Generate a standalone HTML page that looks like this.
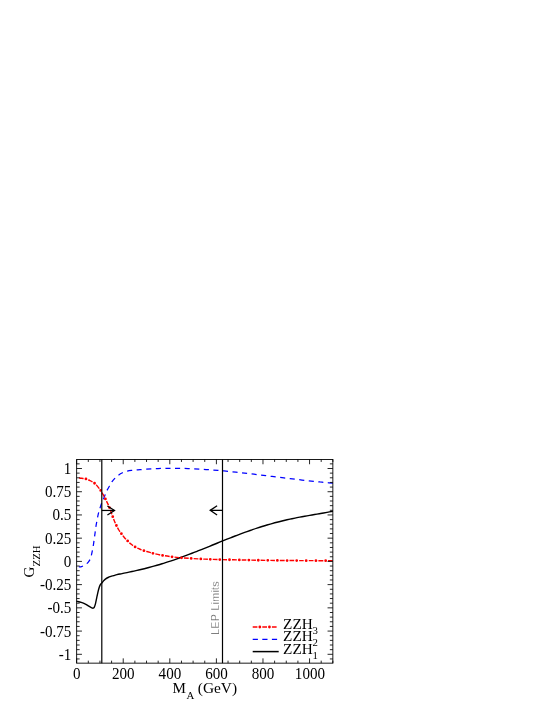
<!DOCTYPE html>
<html><head><meta charset="utf-8"><title>G_ZZH vs M_A</title>
<style>
html,body{margin:0;padding:0;background:#fff;}
body{width:553px;height:715px;overflow:hidden;position:relative;font-family:"Liberation Serif",serif;}
svg{position:absolute;left:0;top:0;display:block;will-change:transform;}
svg text{font-family:"Liberation Serif",serif;font-size:15.1px;fill:#000;}
svg text.sub{font-size:10.8px;}
svg text.lg{font-size:15.25px;}
svg text.lep{font-family:"Liberation Sans",sans-serif;font-size:10.8px;fill:#444;stroke:#fff;stroke-width:0.3px;}
</style></head><body>
<svg width="553" height="715" viewBox="0 0 553 715">
<!-- curves -->
<g fill="none" stroke-linejoin="round">
<path d="M76.50 601.30C76.62 601.32 76.42 601.22 77.20 601.40C77.98 601.58 79.83 601.95 81.20 602.40C82.57 602.85 84.13 603.47 85.40 604.10C86.67 604.73 87.75 605.58 88.80 606.20C89.85 606.82 91.00 607.47 91.70 607.80C92.40 608.13 92.58 608.27 93.00 608.20C93.42 608.13 93.78 608.17 94.20 607.40C94.62 606.63 95.08 605.20 95.50 603.60C95.92 602.00 96.28 599.75 96.70 597.80C97.12 595.85 97.58 593.65 98.00 591.90C98.42 590.15 98.83 588.55 99.25 587.30C99.67 586.05 100.03 585.17 100.50 584.40C100.97 583.63 101.60 583.28 102.10 582.70C102.60 582.12 102.95 581.50 103.50 580.90C104.05 580.30 104.63 579.67 105.40 579.10C106.17 578.53 107.18 577.95 108.10 577.50C109.02 577.05 110.00 576.71 110.90 576.40C111.80 576.09 112.48 575.95 113.50 575.65C114.52 575.35 115.58 574.93 117.00 574.59C118.42 574.25 120.33 573.94 122.00 573.60C123.67 573.27 125.33 572.94 127.00 572.59C128.67 572.25 130.33 571.90 132.00 571.54C133.67 571.18 135.33 570.81 137.00 570.43C138.67 570.05 140.33 569.66 142.00 569.25C143.67 568.85 145.33 568.43 147.00 568.00C148.67 567.57 150.33 567.13 152.00 566.68C153.67 566.22 155.33 565.75 157.00 565.27C158.67 564.78 160.33 564.29 162.00 563.77C163.67 563.26 165.33 562.74 167.00 562.20C168.67 561.66 170.33 561.11 172.00 560.55C173.67 559.99 175.33 559.41 177.00 558.82C178.67 558.24 180.33 557.64 182.00 557.03C183.67 556.42 185.33 555.80 187.00 555.17C188.67 554.54 190.33 553.90 192.00 553.26C193.67 552.61 195.33 551.96 197.00 551.30C198.67 550.65 200.33 549.98 202.00 549.31C203.67 548.65 205.33 547.97 207.00 547.30C208.67 546.62 210.33 545.95 212.00 545.27C213.67 544.59 215.33 543.91 217.00 543.24C218.67 542.56 220.33 541.88 222.00 541.21C223.67 540.54 225.33 539.87 227.00 539.21C228.67 538.54 230.33 537.88 232.00 537.23C233.67 536.58 235.33 535.93 237.00 535.29C238.67 534.66 240.33 534.03 242.00 533.41C243.67 532.79 245.33 532.18 247.00 531.58C248.67 530.98 250.33 530.40 252.00 529.82C253.67 529.25 255.33 528.68 257.00 528.14C258.67 527.59 260.33 527.05 262.00 526.53C263.67 526.01 265.33 525.50 267.00 525.01C268.67 524.52 270.33 524.04 272.00 523.57C273.67 523.11 275.33 522.66 277.00 522.23C278.67 521.79 280.33 521.38 282.00 520.97C283.67 520.57 285.33 520.18 287.00 519.80C288.67 519.42 290.33 519.06 292.00 518.70C293.67 518.35 295.33 518.01 297.00 517.68C298.67 517.36 300.33 517.04 302.00 516.73C303.67 516.42 305.33 516.12 307.00 515.82C308.67 515.52 310.33 515.24 312.00 514.95C313.67 514.66 315.33 514.38 317.00 514.09C318.67 513.81 320.33 513.52 322.00 513.23C323.67 512.94 325.18 512.68 327.00 512.34C328.82 512.00 331.92 511.40 332.90 511.21" stroke="#000" stroke-width="1.4"/>
<path d="M78.80 566.70C79.00 566.74 79.55 566.95 80.00 566.95C80.45 566.95 81.02 566.86 81.50 566.70C81.98 566.54 82.35 566.28 82.90 566.00C83.45 565.72 84.18 565.37 84.80 565.00C85.42 564.63 85.98 564.33 86.60 563.80C87.22 563.27 87.93 562.52 88.50 561.80C89.07 561.08 89.55 560.47 90.00 559.50C90.45 558.53 90.80 557.50 91.20 556.00C91.60 554.50 92.03 552.33 92.40 550.50C92.77 548.67 93.08 547.00 93.40 545.00C93.72 543.00 94.00 540.67 94.30 538.50C94.60 536.33 94.92 534.08 95.20 532.00C95.48 529.92 95.68 528.00 96.00 526.00C96.32 524.00 96.73 521.93 97.10 520.00C97.47 518.07 97.82 516.07 98.20 514.40C98.58 512.73 98.98 511.40 99.40 510.00C99.82 508.60 100.22 507.42 100.70 506.00C101.18 504.58 101.75 502.88 102.30 501.50C102.85 500.12 103.42 499.12 104.00 497.70C104.58 496.28 105.25 494.30 105.80 493.00C106.35 491.70 106.68 491.07 107.30 489.90C107.92 488.73 108.73 487.33 109.50 486.00C110.27 484.67 111.02 483.17 111.90 481.90C112.78 480.63 113.72 479.52 114.80 478.40C115.88 477.28 117.12 476.13 118.40 475.20C119.68 474.27 121.00 473.48 122.50 472.80C124.00 472.12 125.83 471.52 127.40 471.10C128.97 470.68 130.47 470.50 131.90 470.30C133.33 470.10 134.65 470.01 136.00 469.90C137.35 469.79 138.33 469.76 140.00 469.63C141.67 469.51 144.00 469.31 146.00 469.17C148.00 469.03 150.00 468.91 152.00 468.81C154.00 468.71 156.00 468.62 158.00 468.55C160.00 468.48 162.00 468.43 164.00 468.39C166.00 468.35 168.00 468.32 170.00 468.31C172.00 468.30 174.00 468.31 176.00 468.33C178.00 468.34 180.00 468.38 182.00 468.42C184.00 468.46 186.00 468.52 188.00 468.59C190.00 468.66 192.00 468.74 194.00 468.84C196.00 468.93 198.00 469.04 200.00 469.15C202.00 469.26 204.00 469.39 206.00 469.53C208.00 469.66 210.00 469.81 212.00 469.96C214.00 470.12 216.00 470.28 218.00 470.45C220.00 470.62 222.00 470.80 224.00 470.99C226.00 471.17 228.00 471.37 230.00 471.57C232.00 471.77 234.00 471.98 236.00 472.19C238.00 472.40 240.00 472.62 242.00 472.84C244.00 473.06 246.00 473.29 248.00 473.52C250.00 473.75 252.00 473.99 254.00 474.23C256.00 474.46 258.00 474.71 260.00 474.95C262.00 475.19 264.00 475.44 266.00 475.69C268.00 475.93 270.00 476.18 272.00 476.43C274.00 476.68 276.00 476.93 278.00 477.17C280.00 477.42 282.00 477.67 284.00 477.91C286.00 478.16 288.00 478.40 290.00 478.65C292.00 478.89 294.00 479.13 296.00 479.36C298.00 479.60 300.00 479.83 302.00 480.06C304.00 480.29 306.00 480.51 308.00 480.73C310.00 480.95 312.00 481.16 314.00 481.37C316.00 481.57 318.00 481.77 320.00 481.97C322.00 482.16 323.85 482.33 326.00 482.52C328.15 482.71 331.75 483.00 332.90 483.10" stroke="#0000ff" stroke-width="1.25" stroke-dasharray="5.1 4.5" stroke-dashoffset="0.7"/>
<path d="M78.90 477.90C79.33 477.95 80.65 478.07 81.50 478.20C82.35 478.32 83.27 478.52 84.00 478.65C84.73 478.77 85.27 478.77 85.90 478.95C86.53 479.12 87.12 479.42 87.80 479.70C88.48 479.98 89.23 480.25 90.00 480.60C90.77 480.95 91.65 481.37 92.40 481.80C93.15 482.23 93.82 482.65 94.50 483.20C95.18 483.75 95.67 484.17 96.50 485.10C97.33 486.03 98.77 487.85 99.50 488.80C100.23 489.75 100.32 489.87 100.90 490.80C101.48 491.73 102.25 493.05 103.00 494.40C103.75 495.75 104.70 497.53 105.40 498.90C106.10 500.27 106.58 501.30 107.20 502.60C107.82 503.90 108.48 505.22 109.10 506.70C109.72 508.18 110.30 509.87 110.90 511.50C111.50 513.13 112.10 514.88 112.70 516.50C113.30 518.12 113.88 519.70 114.50 521.20C115.12 522.70 115.68 524.03 116.40 525.50C117.12 526.97 117.95 528.62 118.80 530.00C119.65 531.38 120.55 532.52 121.50 533.80C122.45 535.08 123.43 536.47 124.50 537.70C125.57 538.93 126.77 540.10 127.90 541.20C129.03 542.30 130.08 543.33 131.30 544.30C132.52 545.27 133.83 546.22 135.20 547.00C136.57 547.78 138.07 548.40 139.50 549.00C140.93 549.60 142.05 550.03 143.80 550.60C145.55 551.17 148.30 551.90 150.00 552.40C151.70 552.90 151.82 553.08 154.00 553.60C156.18 554.12 160.08 554.97 163.10 555.50C166.12 556.03 169.08 556.42 172.10 556.80C175.12 557.18 176.68 557.45 181.20 557.80C185.72 558.15 193.18 558.62 199.20 558.90C205.22 559.18 209.67 559.32 217.30 559.50C224.93 559.68 236.22 559.85 245.00 560.00C253.78 560.15 260.83 560.30 270.00 560.40C279.17 560.50 289.52 560.54 300.00 560.60C310.48 560.66 327.42 560.73 332.90 560.75" stroke="#ff0000" stroke-width="1.4" stroke-dasharray="4.7 4.9"/>
<path d="M78.90 477.90C79.33 477.95 80.65 478.07 81.50 478.20C82.35 478.32 83.27 478.52 84.00 478.65C84.73 478.77 85.27 478.77 85.90 478.95C86.53 479.12 87.12 479.42 87.80 479.70C88.48 479.98 89.23 480.25 90.00 480.60C90.77 480.95 91.65 481.37 92.40 481.80C93.15 482.23 93.82 482.65 94.50 483.20C95.18 483.75 95.67 484.17 96.50 485.10C97.33 486.03 98.77 487.85 99.50 488.80C100.23 489.75 100.32 489.87 100.90 490.80C101.48 491.73 102.25 493.05 103.00 494.40C103.75 495.75 104.70 497.53 105.40 498.90C106.10 500.27 106.58 501.30 107.20 502.60C107.82 503.90 108.48 505.22 109.10 506.70C109.72 508.18 110.30 509.87 110.90 511.50C111.50 513.13 112.10 514.88 112.70 516.50C113.30 518.12 113.88 519.70 114.50 521.20C115.12 522.70 115.68 524.03 116.40 525.50C117.12 526.97 117.95 528.62 118.80 530.00C119.65 531.38 120.55 532.52 121.50 533.80C122.45 535.08 123.43 536.47 124.50 537.70C125.57 538.93 126.77 540.10 127.90 541.20C129.03 542.30 130.08 543.33 131.30 544.30C132.52 545.27 133.83 546.22 135.20 547.00C136.57 547.78 138.07 548.40 139.50 549.00C140.93 549.60 142.05 550.03 143.80 550.60C145.55 551.17 148.30 551.90 150.00 552.40C151.70 552.90 151.82 553.08 154.00 553.60C156.18 554.12 160.08 554.97 163.10 555.50C166.12 556.03 169.08 556.42 172.10 556.80C175.12 557.18 176.68 557.45 181.20 557.80C185.72 558.15 193.18 558.62 199.20 558.90C205.22 559.18 209.67 559.32 217.30 559.50C224.93 559.68 236.22 559.85 245.00 560.00C253.78 560.15 260.83 560.30 270.00 560.40C279.17 560.50 289.52 560.54 300.00 560.60C310.48 560.66 327.42 560.73 332.90 560.75" stroke="#ff0000" stroke-width="2.8" stroke-linecap="round" stroke-dasharray="0 9.6" stroke-dashoffset="-7.15"/>
</g>
<!-- vertical limit lines and arrows -->
<g fill="none" stroke="#000" stroke-width="1.2">
<path d="M101.8 459.45 V663.15"/>
<path d="M222.5 459.45 V663.15"/>
<path d="M101.8 510.45 H114.4" stroke-width="1.25"/>
<path d="M107.4 505.95 L114.5 510.45 L107.4 514.95" stroke-width="1.3" stroke-miterlimit="10"/>
<path d="M222.5 510.35 H210.2" stroke-width="1.25"/>
<path d="M217.1 505.7 L210.2 510.35 L217.1 515" stroke-width="1.3" stroke-miterlimit="10"/>
</g>
<!-- frame + ticks -->
<path d="M76.65 663.15 v-4.80M76.65 459.45 v4.80M88.30 663.15 v-2.50M88.30 459.45 v2.50M99.94 663.15 v-2.50M99.94 459.45 v2.50M111.59 663.15 v-2.50M111.59 459.45 v2.50M123.23 663.15 v-4.80M123.23 459.45 v4.80M134.88 663.15 v-2.50M134.88 459.45 v2.50M146.52 663.15 v-2.50M146.52 459.45 v2.50M158.17 663.15 v-2.50M158.17 459.45 v2.50M169.81 663.15 v-4.80M169.81 459.45 v4.80M181.46 663.15 v-2.50M181.46 459.45 v2.50M193.10 663.15 v-2.50M193.10 459.45 v2.50M204.75 663.15 v-2.50M204.75 459.45 v2.50M216.40 663.15 v-4.80M216.40 459.45 v4.80M228.04 663.15 v-2.50M228.04 459.45 v2.50M239.69 663.15 v-2.50M239.69 459.45 v2.50M251.33 663.15 v-2.50M251.33 459.45 v2.50M262.98 663.15 v-4.80M262.98 459.45 v4.80M274.62 663.15 v-2.50M274.62 459.45 v2.50M286.27 663.15 v-2.50M286.27 459.45 v2.50M297.91 663.15 v-2.50M297.91 459.45 v2.50M309.56 663.15 v-4.80M309.56 459.45 v4.80M321.20 663.15 v-2.50M321.20 459.45 v2.50M332.85 663.15 v-2.50M332.85 459.45 v2.50M76.65 658.94 h3.00M332.85 658.94 h-3.00M76.65 654.30 h5.30M332.85 654.30 h-5.30M76.65 649.65 h3.00M332.85 649.65 h-3.00M76.65 645.01 h3.00M332.85 645.01 h-3.00M76.65 640.37 h3.00M332.85 640.37 h-3.00M76.65 635.72 h3.00M332.85 635.72 h-3.00M76.65 631.08 h5.30M332.85 631.08 h-5.30M76.65 626.43 h3.00M332.85 626.43 h-3.00M76.65 621.78 h3.00M332.85 621.78 h-3.00M76.65 617.14 h3.00M332.85 617.14 h-3.00M76.65 612.50 h3.00M332.85 612.50 h-3.00M76.65 607.85 h5.30M332.85 607.85 h-5.30M76.65 603.20 h3.00M332.85 603.20 h-3.00M76.65 598.56 h3.00M332.85 598.56 h-3.00M76.65 593.91 h3.00M332.85 593.91 h-3.00M76.65 589.27 h3.00M332.85 589.27 h-3.00M76.65 584.62 h5.30M332.85 584.62 h-5.30M76.65 579.98 h3.00M332.85 579.98 h-3.00M76.65 575.34 h3.00M332.85 575.34 h-3.00M76.65 570.69 h3.00M332.85 570.69 h-3.00M76.65 566.04 h3.00M332.85 566.04 h-3.00M76.65 561.40 h5.30M332.85 561.40 h-5.30M76.65 556.75 h3.00M332.85 556.75 h-3.00M76.65 552.11 h3.00M332.85 552.11 h-3.00M76.65 547.46 h3.00M332.85 547.46 h-3.00M76.65 542.82 h3.00M332.85 542.82 h-3.00M76.65 538.17 h5.30M332.85 538.17 h-5.30M76.65 533.53 h3.00M332.85 533.53 h-3.00M76.65 528.88 h3.00M332.85 528.88 h-3.00M76.65 524.24 h3.00M332.85 524.24 h-3.00M76.65 519.60 h3.00M332.85 519.60 h-3.00M76.65 514.95 h5.30M332.85 514.95 h-5.30M76.65 510.30 h3.00M332.85 510.30 h-3.00M76.65 505.66 h3.00M332.85 505.66 h-3.00M76.65 501.01 h3.00M332.85 501.01 h-3.00M76.65 496.37 h3.00M332.85 496.37 h-3.00M76.65 491.72 h5.30M332.85 491.72 h-5.30M76.65 487.08 h3.00M332.85 487.08 h-3.00M76.65 482.43 h3.00M332.85 482.43 h-3.00M76.65 477.79 h3.00M332.85 477.79 h-3.00M76.65 473.14 h3.00M332.85 473.14 h-3.00M76.65 468.50 h5.30M332.85 468.50 h-5.30M76.65 463.85 h3.00M332.85 463.85 h-3.00" fill="none" stroke="#000" stroke-width="0.85"/>
<rect x="76.65" y="459.45" width="256.20" height="203.70" fill="none" stroke="#000" stroke-width="0.9"/>
<!-- tick labels -->
<g><text transform="translate(76.75 679.0) scale(1 1.080)" text-anchor="middle">0</text><text transform="translate(123.33 679.0) scale(1 1.080)" text-anchor="middle">200</text><text transform="translate(169.91 679.0) scale(1 1.080)" text-anchor="middle">400</text><text transform="translate(216.50 679.0) scale(1 1.080)" text-anchor="middle">600</text><text transform="translate(263.08 679.0) scale(1 1.080)" text-anchor="middle">800</text><text transform="translate(309.96 679.0) scale(1 1.080)" text-anchor="middle">1000</text></g>
<g><text transform="translate(71.4 473.95) scale(1 1.080)" text-anchor="end">1</text><text transform="translate(71.4 497.17) scale(1 1.080)" text-anchor="end">0.75</text><text transform="translate(71.4 520.40) scale(1 1.080)" text-anchor="end">0.5</text><text transform="translate(71.4 543.62) scale(1 1.080)" text-anchor="end">0.25</text><text transform="translate(71.4 566.85) scale(1 1.080)" text-anchor="end">0</text><text transform="translate(71.4 590.08) scale(1 1.080)" text-anchor="end">-0.25</text><text transform="translate(71.4 613.30) scale(1 1.080)" text-anchor="end">-0.5</text><text transform="translate(71.4 636.53) scale(1 1.080)" text-anchor="end">-0.75</text><text transform="translate(71.4 659.75) scale(1 1.080)" text-anchor="end">-1</text></g>
<!-- axis labels -->
<text x="172.6" y="693.1">M</text><text class="sub" x="186.5" y="698.9">A</text><text x="197.8" y="693.1" style="font-size:15.4px">(GeV)</text>
<g transform="translate(34.1 577.6) rotate(-90)"><text x="0" y="0">G</text><text class="sub" x="11.2" y="6.1">ZZH</text></g>
<g transform="translate(219 634.9) rotate(-90)"><text class="lep" x="0" y="0" textLength="53.6" lengthAdjust="spacing">LEP Limits</text></g>
<!-- legend -->
<g fill="none">
<path d="M252.7 627 H277" stroke="#ff0000" stroke-width="1.4" stroke-dasharray="4.7 4.9"/>
<path d="M252.7 627 H277" stroke="#ff0000" stroke-width="2.8" stroke-linecap="round" stroke-dasharray="0 9.6" stroke-dashoffset="-7.15"/>
<path d="M252.7 639.4 H277.2" stroke="#0000ff" stroke-width="1.35" stroke-dasharray="5.2 4.4"/>
<path d="M252.7 651.6 H278.7" stroke="#000" stroke-width="1.5"/>
</g>
<text class="lg" x="283.1" y="629.1">ZZH</text><text class="sub" x="312.6" y="634.1">3</text>
<text class="lg" x="283.1" y="641.3">ZZH</text><text class="sub" x="312.6" y="646.3">2</text>
<text class="lg" x="283.1" y="653.5">ZZH</text><text class="sub" x="312.6" y="658.5">1</text>
</svg>
</body></html>
